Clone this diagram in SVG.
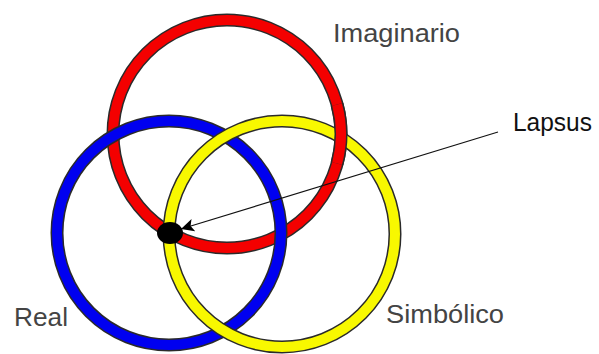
<svg xmlns="http://www.w3.org/2000/svg" width="599" height="354" viewBox="0 0 599 354">
<defs>
<style>
.edge{fill:none;stroke:#2a2a2a;stroke-width:13}
.band{fill:none;stroke-width:10}
.red{stroke:#f40000}
.blue{stroke:#0000f0}
.yellow{stroke:#f8f800}
.lbl{font-family:"Liberation Sans",Arial,sans-serif;font-size:25px;fill:#444}
.conn{fill:none;stroke:#111;stroke-width:1.1}
</style>
<marker id="arrow" markerUnits="userSpaceOnUse" markerWidth="14" markerHeight="14" refX="13" refY="6.5" orient="auto">
<path d="M0,0 L13,6.5 L0,13 L3,6.5 z" fill="#000"/>
</marker>
</defs>
<rect width="599" height="354" fill="#fff"/>
<g id="imaginario">
<circle class="edge" cx="227" cy="134" r="114"/>
<circle class="band red" cx="227" cy="134" r="114"/>
<text class="lbl" x="333" y="42" textLength="127" lengthAdjust="spacingAndGlyphs">Imaginario</text>
</g>
<g id="real">
<circle class="edge" cx="169" cy="233" r="112"/>
<circle class="band blue" cx="169" cy="233" r="112"/>
<text class="lbl" x="14" y="326" textLength="54" lengthAdjust="spacingAndGlyphs">Real</text>
</g>
<g id="simbolico">
<circle class="edge" cx="282" cy="234" r="113"/>
<circle class="band yellow" cx="282" cy="234" r="113"/>
<text class="lbl" x="386" y="323" textLength="118" lengthAdjust="spacingAndGlyphs">Simbólico</text>
</g>
<g id="imaginario-over">
<path class="edge" d="M337.1,104.5 A114,114 0 0 1 337.1,163.5" style="stroke-linecap:butt"/>
<path class="band red" d="M337.1,104.5 A114,114 0 0 1 337.1,163.5"/>
</g>
<g id="connectors">
<line class="conn" x1="498" y1="132" x2="181" y2="229" marker-end="url(#arrow)"/>
</g>
<g id="lapsus">
<ellipse cx="170" cy="233" rx="13" ry="11" fill="#000"/>
<text x="513" y="131" style="font-family:'Liberation Sans',Arial,sans-serif;font-size:25px;fill:#111" textLength="79" lengthAdjust="spacingAndGlyphs">Lapsus</text>
</g>
</svg>
